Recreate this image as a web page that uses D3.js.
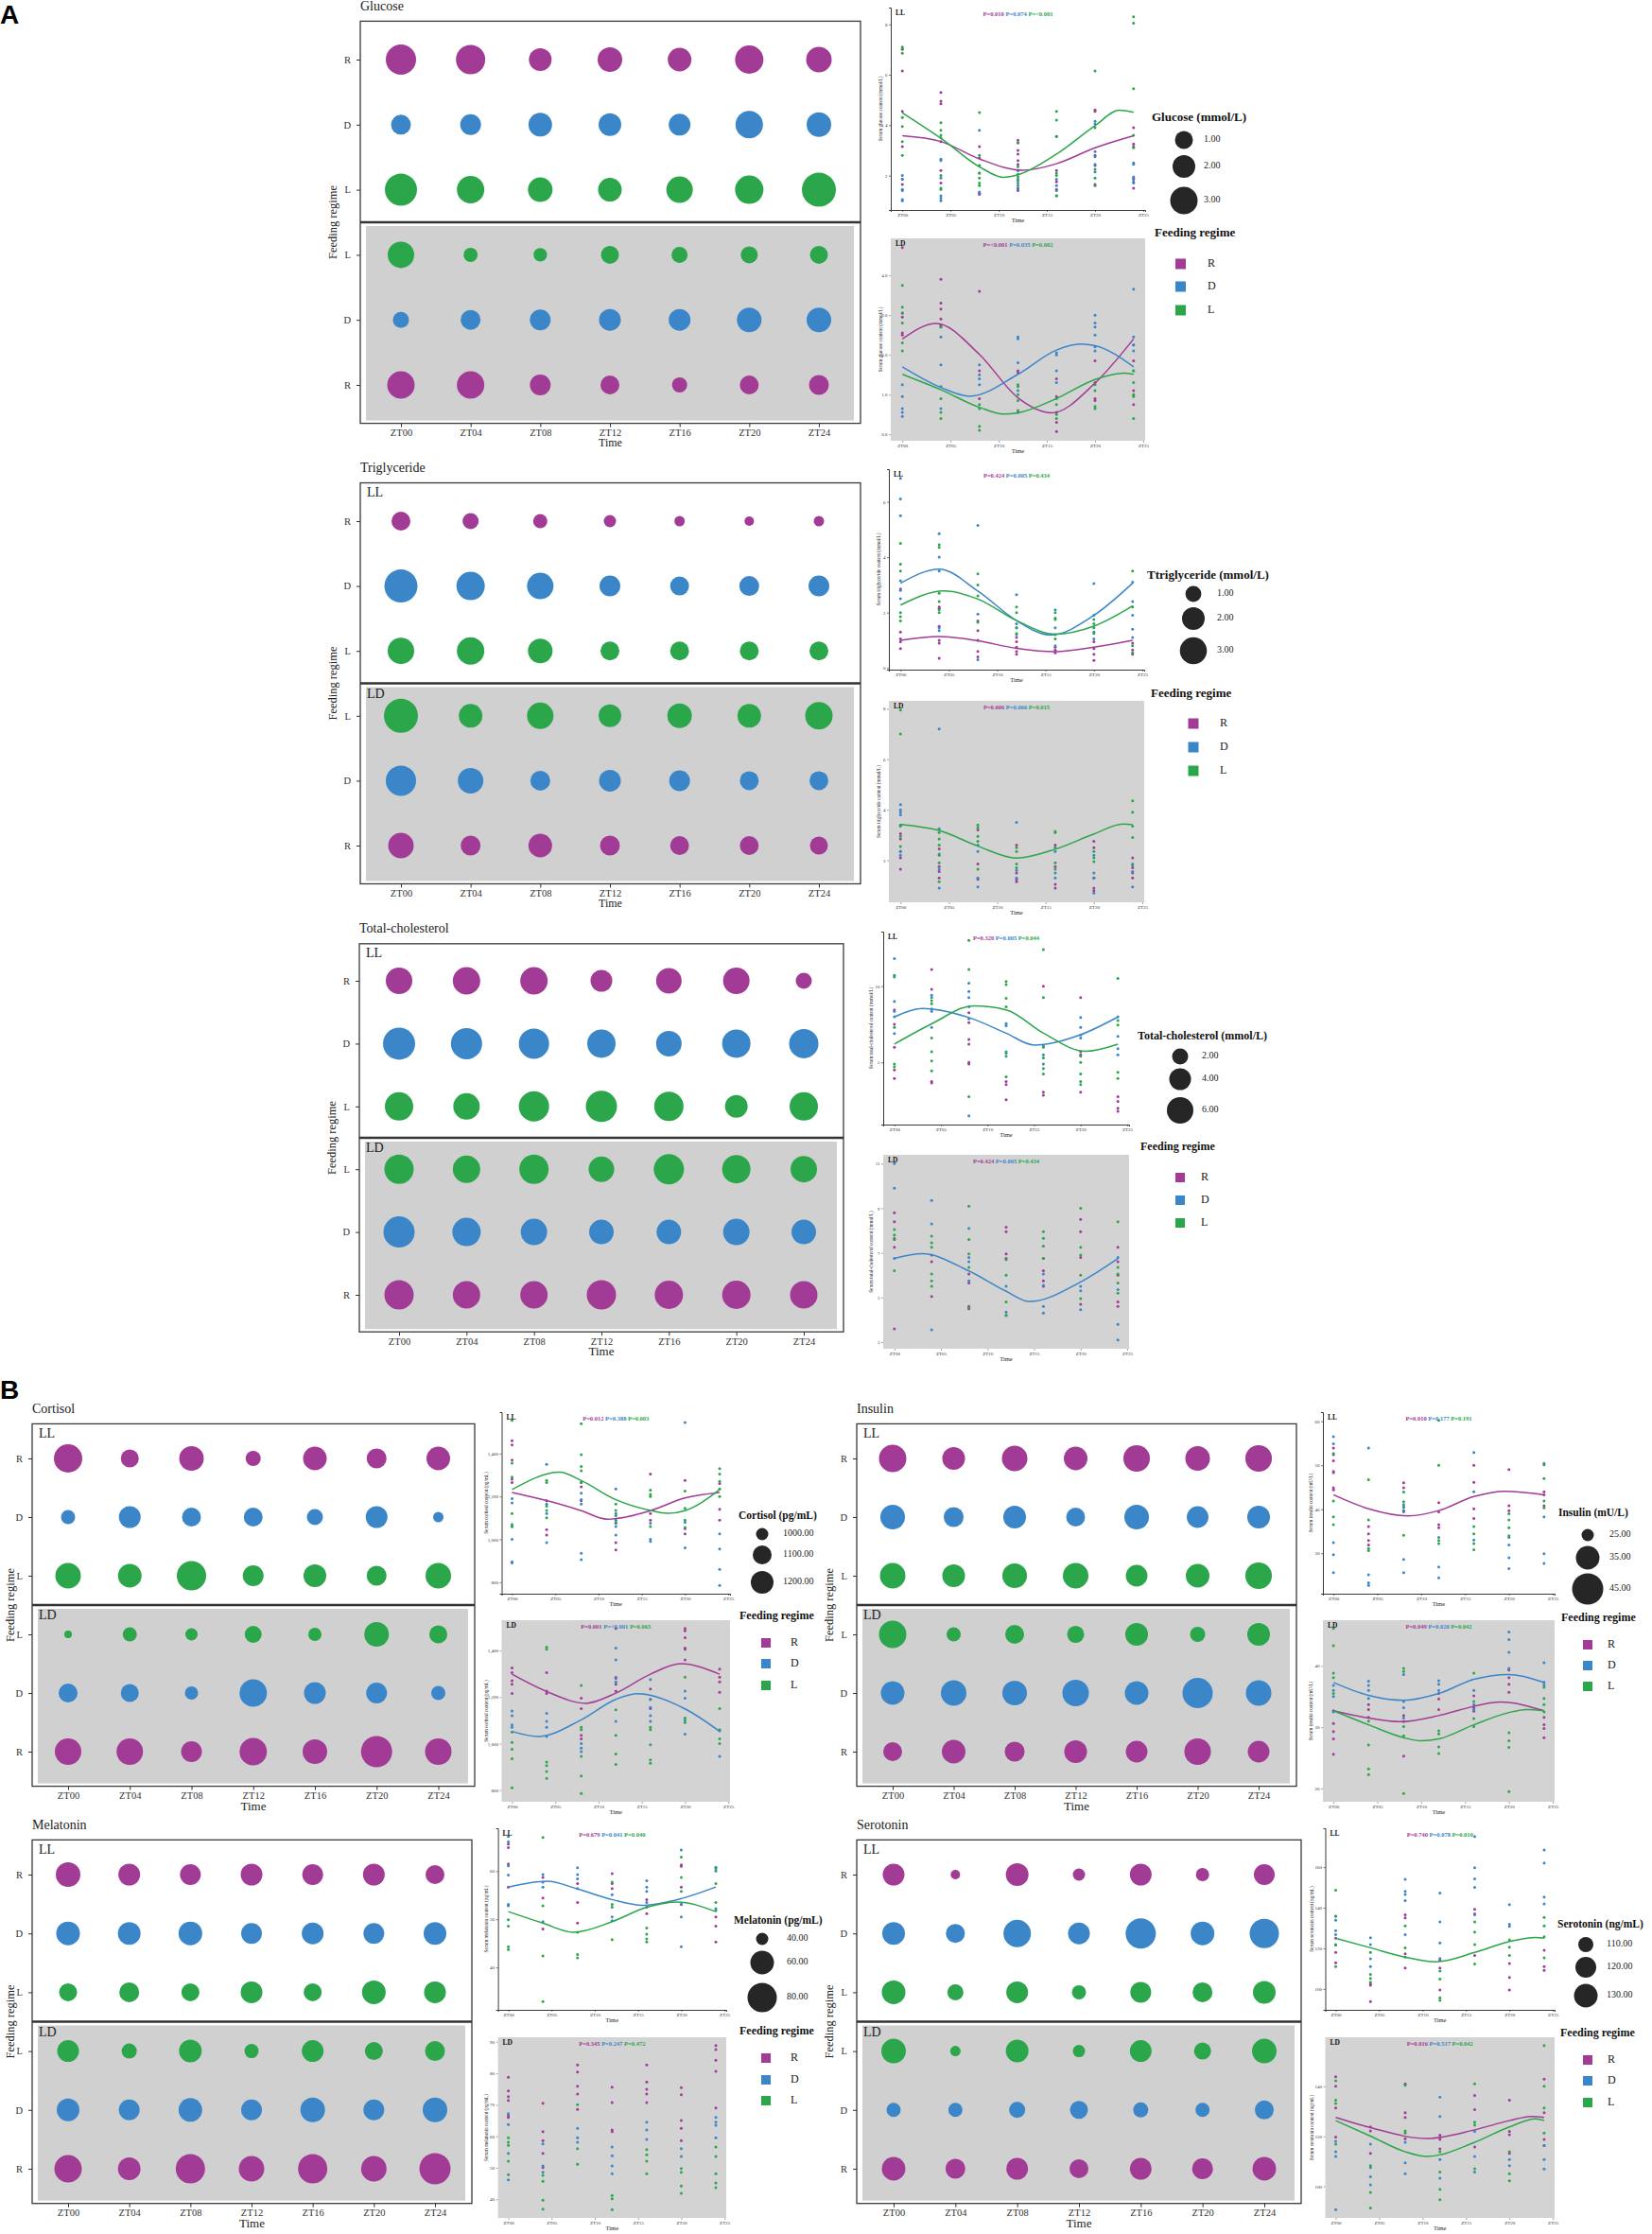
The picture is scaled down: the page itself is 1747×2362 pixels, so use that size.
<!DOCTYPE html>
<html><head><meta charset="utf-8">
<script src="https://cdn.jsdelivr.net/npm/d3@7"></script>
<style>body{margin:0;background:#fff}</style>
</head><body><svg id="chart" width="1747" height="2362"></svg>
<script>
// ---------- shared categories ----------
const ztLabels = ["ZT00","ZT04","ZT08","ZT12","ZT16","ZT20","ZT24"];
const ztHours = [0,4,8,12,16,20,24];
const groups = ["R","D","L"];
const scatterXTicks = [0,5,10,15,20,25];

// ---------- bubble means ----------
const gluBubLL = {R:[3.6,3.4,2.0,2.4,2.2,3.2,2.6], D:[1.4,1.6,2.2,2.0,1.8,3.0,2.4], L:[4.0,3.0,2.4,2.2,2.8,3.2,4.4]};
const gluBubLD = {R:[3.0,3.0,1.6,1.2,0.4,1.2,1.4], D:[0.6,1.4,1.6,1.8,1.8,2.4,2.4], L:[2.8,0.2,0.05,1.0,0.6,0.8,1.0]};
const triBubLL = {R:[1.44,1.03,0.75,0.47,0.19,0.06,0.19], D:[4.39,3.30,2.87,1.72,1.44,1.58,1.72], L:[2.87,3.09,2.43,1.44,1.44,1.44,1.44]};
const triBubLD = {R:[2.65,1.58,2.22,1.58,1.44,1.44,1.31], D:[3.74,2.65,1.58,1.86,1.72,1.44,1.44], L:[4.61,2.22,2.87,2.0,2.43,2.22,3.09]};
const cholBubLL = {R:[6.0,6.4,6.4,4.0,5.6,6.0,2.0], D:[8.4,8.0,7.6,6.8,5.6,6.8,7.2], L:[6.8,6.0,7.6,8.0,7.2,4.4,6.8]};
const cholBubLD = {R:[7.2,6.4,6.4,7.2,6.8,6.8,6.4], D:[8.0,6.8,6.0,5.2,5.2,6.0,5.2], L:[7.2,6.4,7.2,5.6,7.6,6.8,6.0]};
const cortBubLL = {R:[1350,1086,1250,1043,1225,1125,1225], D:[1029,1175,1100,1100,1057,1175,971], L:[1275,1225,1375,1150,1200,1125,1275]};
const cortBubLD = {R:[1300,1300,1150,1325,1250,1425,1300], D:[1100,1086,1014,1325,1175,1150,1029], L:[929,1029,1000,1071,1014,1250,1086]};
const insBubLL = {R:[40,34.2,37.5,35,38.8,36.3,38.8], D:[36.3,31.7,34.2,30.8,36.3,33.3,34.2], L:[37.5,34.2,36.3,37.5,33.3,35,38.8]};
const insBubLD = {R:[30.8,35,31.7,34.2,33.3,38.8,33.3], D:[35,37.5,36.3,38.8,35,43.8,37.5], L:[40,26.7,30.8,29.2,34.2,27.5,34.2]};
const melBubLL = {R:[63.3,56.7,55,56.7,55,56.7,51.7], D:[60,58.3,60,55,56.7,55,58.3], L:[50,53.3,50,56.7,50,60,56.7]};
const melBubLD = {R:[73.3,58.3,80,66.7,80,66.7,86.7], D:[58.3,55,60,55,63.3,55,63.3], L:[56.7,45,58.3,43.3,56.7,50,53.3]};
const serBubLL = {R:[123.3,100,126.7,105,123.3,106.7,120], D:[126.7,116.7,143.3,123.3,153.3,130,150], L:[130,111.7,123.3,108.3,120,118.3,126.7]};
const serBubLD = {R:[130,118.3,123.3,116.7,123.3,120,130], D:[108.3,108.3,111.7,115,110,108.3,116.7], L:[133.3,101.7,126.7,105,123.3,113.3,133.3]};

// ---------- size legends ----------
const gluLegVals = [1,2,3];
const triLegVals = [1,2,3];
const cholLegVals = [2,4,6];
const cortLegVals = [1000,1100,1200];
const insLegVals = [25,35,45];
const melLegVals = [40,60,80];
const serLegVals = [110,120,130];

// ---------- individual points per ZT (scatter) ----------
const gluPtsLL = {
 R:[[7.0,6.15,4.55,3.15,1.85,1.65],[5.3,4.95,4.85,3.35,2.2,1.7],[3.15,2.7,2.1,1.3,1.25],[3.4,3.3,3.0,2.85,2.6,2.45,2.2,1.5,1.4],[2.2,1.75,1.45],[4.6,4.55,2.8,2.4,1.65],[3.9,3.25,3.15,1.85,1.5]],
 D:[[2.0,1.85,1.45,1.4,1.05,1.0],[2.65,2.6,1.9,1.2,1.1,1.0],[3.8,2.4,1.35,1.3],[2.2,2.05,1.85,1.7,1.45],[3.55,1.85,1.6,1.4],[4.15,4.05,2.95,2.75,2.45,2.15],[2.5,2.45,1.95,1.9,1.75,1.7]],
 L:[[7.1,7.05,6.85,4.3,3.95,3.35,2.8],[4.1,3.8,3.6,3.5,2.0,1.5,1.45],[4.5,2.8,2.4,2.1,1.9,1.7,1.6],[3.3,2.35,1.95,1.8,1.6],[4.55,4.2,3.55,2.1,2.0,1.2,1.2],[6.15,3.9,2.25,1.9,1.6],[8.3,8.05,5.45,3.6,3.1]]};
const gluPtsLD = {
 R:[[4.7,3.05,2.95,2.55,2.5],[3.9,3.3,3.15,2.9,2.75,2.7],[3.6,1.6,0.9],[1.6,1.55,0.55],[1.4,0.95,0.55,0.3,0.07],[1.85,1.3,0.9,0.85],[2.25,1.85,1.1,0.75]],
 D:[[1.25,0.95,0.65,0.55,0.45],[2.45,1.75,1.2,0.65],[1.75,1.5,1.4,1.25],[2.45,2.4,1.8,1.1],[2.05,2.0,1.6,1.3],[3.0,2.8,2.7,2.5,2.2,2.1],[3.65,2.45,2.25,2.1,1.6]],
 L:[[3.75,3.2,3.05,2.8,2.3,2.1],[2.7,0.9,0.55,0.4],[0.75,0.65,0.2,0.1],[1.25,1.2,1.0,0.85,0.6],[0.9,0.75,0.5,0.4],[1.25,1.1,0.7,0.65],[1.6,1.3,1.0,0.95,0.4]]};
const triPtsLL = {
 R:[[2.85,1.3,1.05,0.95,0.7],[2.2,2.15,1.5,1.0,0.9,0.35],[1.7,1.35,1.0,0.6,0.4],[1.1,0.95,0.75,0.6,0.5],[0.75,0.65,0.55],[0.95,0.7,0.5,0.27],[0.9,0.65,0.5]],
 D:[[6.85,6.1,5.5,3.15,2.8,2.5],[4.85,4.0,3.5,1.45,1.35],[5.15,1.95,0.3],[2.65,1.6,1.45,1.2],[2.1,1.45,1.2,0.8],[3.05,1.9,1.3,1.05],[3.1,2.4,1.9,1.4,1.1]],
 L:[[4.5,3.75,3.5,2.0,1.85,1.7],[4.45,4.35,2.7,2.4,2.1,2.0],[3.4,3.0,2.6,1.65],[2.2,2.0,1.45,1.25],[2.0,1.8,1.75,1.05],[1.75,1.6,1.45,1.25],[3.5,2.2,0.8,0.55]]};
const triPtsLD = {
 R:[[3.05,2.85,2.35,2.1,1.65],[2.45,1.75,1.55,1.3],[3.2,1.85,1.25],[2.6,1.5,1.25,1.15],[2.6,1.75,1.05,0.9],[2.75,2.5,1.3,0.9,0.8],[2.1,1.7,1.5,1.3]],
 D:[[4.2,4.0,3.9,3.8,3.4,2.35,2.2],[7.2,3.25,2.2,1.65,0.9],[2.6,2.35,1.3,0.95],[3.5,1.6,1.3],[2.35,1.5,1.3],[2.2,1.5,1.3,0.7],[1.85,1.55,0.95]],
 L:[[7.95,7.0,3.35,2.95,2.55],[3.1,2.85,2.6,2.25,1.9,1.15],[3.4,3.3,2.95,2.75,1.65],[2.5,2.35,1.85,1.7],[3.15,3.1,2.5,1.9,1.65],[2.35,2.1,1.95],[4.35,3.9,3.35,2.9,1.8]]};
const cholPtsLL = {
 R:[[8.45,7.5,6.0,4.5,3.95],[11.1,9.8,3.75,3.65],[8.25,7.6,6.5,6.2,5.0,4.9],[3.75,3.55,2.55],[10.0,3.05,2.85],[9.25,5.7,5.5,3.05],[2.75,2.45,2.0,1.8]],
 D:[[11.8,10.7,9.0,8.35,8.0,6.9],[9.4,9.25,8.5,8.35,7.3],[10.2,9.65,9.25,8.65,7.85,1.5],[7.55,7.4,5.6],[6.1,5.5,4.9],[7.95,7.3,6.8,6.6],[8.0,6.7,5.9,5.5]],
 L:[[10.6,7.3,4.9,4.7],[9.05,8.85,6.6,5.7,5.1,4.45],[13.0,11.1,2.75],[10.3,10.1,9.2,8.65,5.7,5.4,4.05],[12.4,9.25,6.0,5.3,4.6,4.25],[5.4,5.0,4.25,3.75,3.55],[10.5,7.75,7.45,4.35,3.95]]};
const cholPtsLD = {
 R:[[8.8,8.4,7.6,7.25,3.6],[6.9,6.6,5.05],[6.05,5.65,4.6,4.5],[8.15,7.95,6.95,6.75],[6.75,6.2,5.75,5.5],[8.5,7.95,6.8,4.7],[7.25,6.6,6.0,4.8,4.6]],
 D:[[11.0,9.9,6.75],[9.35,8.3,3.55],[8.1,6.8,6.6,5.75],[5.5,4.35,4.2],[6.05,5.55,4.6,4.3],[5.5,5.3,4.45],[6.8,5.35,3.8,3.1]],
 L:[[8.05,7.8,7.65,6.2],[7.75,7.45,7.25,6.05,5.75,5.5],[9.1,7.6,6.95,6.35,4.55],[6.7,6.0,4.8,4.2],[7.95,7.65,7.3,6.75],[9.0,7.25,6.9,6.0,4.95],[8.4,6.35,6.05,5.65,5.2]]};
const cortPtsLL = {
 R:[[1460,1440,1370,1280,1265],[1180,1045,1020],[1265,1245,1180],[1075,985,950],[1305,1120,1090],[1275,1050,1025],[1260,1140,1090]],
 D:[[1190,1170,1060,1000,895,890],[1350,1165,1120,985],[1215,1185,1165,935,905],[1235,1120,1090,1060,1020],[1075,1000,990],[1545,1080,960],[1025,955,860,785]],
 L:[[1555,1355,1290,1120,1070,1060],[1275,1265,1155,1135,1100],[1540,1395,1340,1320,1265],[1165,1135,1110,1080],[1230,1210,1200,1060],[1225,1145,1090,1055],[1330,1305,1270,1235,1200]]};
const cortPtsLD = {
 R:[[1325,1305,1270,1255,1215],[1305,1225,1215],[1195,1150,1035,1020],[1495,1280,1255,1225],[1235,1190,1150],[1495,1485,1455,1410,1405,1360],[1320,1285,1265,1220]],
 D:[[1140,1120,1080,1070],[1130,1095,1070,1030],[1000,980,965],[1410,1360,1285,1265,1095],[1275,1190,1155,1120,1095],[1225,1195,1100,1040],[1055,945]],
 L:[[1050,1005,975,935,810],[1415,1405,920,905,880,850],[1250,1070,1060,945,860,785],[1145,1035,955,910],[1070,1060,995,930,915],[1285,1110,1090],[1150,1060,1020,1000]]};
const insPtsLL = {
 R:[[53.9,52.4,51.0,48.6,48.3,44.9,44.4],[36.1,34.4,32.9,31.9],[46.0,44.9,39.7],[41.5,39.4,36.5,35.8],[50.0,46.1,40.1,37.9],[49.0,40.8,39.7],[44.0,43.3,40.8]],
 D:[[56.5,54.9,32.4,29.7,25.6],[53.9,25.1,23.3,22.7],[41.1,40.4,39.4,28.6,25.6],[33.6,26.9,24.4],[52.9,44.0,33.0],[33.6,31.9,29.0,26.5],[50.1,38.3,29.9,27.7]],
 L:[[52.7,41.9,38.3,36.5],[46.7,37.6,31.1,30.6],[43.9,41.7,40.6,34.1],[60.2,50.0,32.9,32.2],[36.1,34.4,32.2,30.8],[39.0,37.6,35.8,34.0],[50.4,47.0,41.9,40.3]]};
const insPtsLD = {
 R:[[32.7,30.6,29.3,28.1,25.6],[33.7,32.9,31.6],[31.9,30.9,25.3],[35.5,34.6,32.9],[35.1,33.2,32.6],[39.3,38.1,37.0,35.7],[31.6,30.4,29.8,28.3]],
 D:[[36.8,36.0,35.0,32.5],[37.5,36.8,36.0,34.7],[38.6,34.2,33.2,31.5],[37.6,37.0,36.0],[36.0,33.7,32.9],[45.5,44.3,42.2,39.6],[40.5,37.3,36.9]],
 L:[[46.1,43.3,38.8,38.1,35.5],[31.0,27.1,23.2,22.3],[39.6,39.1,30.1,28.6,19.2],[29.4,28.9,26.8,25.7],[38.8,34.2,31.4,30.1],[29.1,27.8,26.7,19.5],[36.5,34.7,33.7,32.5]]};
const melPtsLL = {
 R:[[65.6,64.9,61.5,56.7],[58.7,54.4,48.0],[57.4,53.5,49.2],[59.5,57.4,56.4],[54.1,52.5,51.2],[61.3,61.0,56.7,53.1],[50.5,48.6,45.3]],
 D:[[67.2,66.1,61.1,59.2,53.1,52.8],[59.3,57.7,56.7,49.5],[60.7,59.3,58.4,56.4],[55.1,50.5,49.7],[58.0,56.7,55.8,53.5],[64.4,53.1,50.5,44.3],[60.8,60.0,52.2]],
 L:[[49.9,48.6,44.3,43.7],[67.0,52.8,42.4,32.9],[47.3,42.7,42.0],[57.7,53.1,52.5,45.8],[48.2,46.9,45.9,45.3],[62.9,58.7,55.8],[60.5,57.4,53.5,51.8]]};
const melPtsLD = {
 R:[[78.7,74.4,72.6,71.4,66.5,66.0],[70.5,61.5,58.6,54.6,50.1],[82.6,80.4,75.9,73.4,68.5],[75.6,70.7,62.0,61.5],[82.6,77.2,74.9,73.4,70.7],[75.4,73.2,65.0,62.5,58.6],[88.8,87.5,84.1,80.6,69.0]],
 D:[[67.2,63.7,54.6,46.2],[57.6,50.6,48.6],[62.5,59.5,58.1],[56.6,53.8,50.6,48.1],[64.5,62.0,59.0],[56.1,53.6],[66.0,64.5,63.5,59.5]],
 L:[[59.5,58.1,57.1,52.1,47.8],[47.6,45.7,39.7,36.9],[70.0,56.1,51.1],[41.2,40.2,36.7],[55.8,54.1,52.1,48.1],[49.8,48.6,44.2,41.9],[56.6,53.6,48.1,45.2,43.7]]};
const serPtsLL = {
 R:[[125.0,118.0,112.9],[102.6,101.8,93.8],[136.5,135.0,117.3,110.3],[114.2,110.3,99.5],[139.2,137.0,116.5],[112.6,105.7,99.5],[119.1,111.1,109.2]],
 D:[[135.8,133.9,128.8,126.8,121.9],[125.3,121.9,114.9,111.1],[154.0,148.1,146.6,143.5,126.8],[147.3,133.0,122.7,115.0],[175.1,159.7,154.3,150.0,136.5],[141.6,131.9,130.8],[168.5,162.0,145.3,141.9]],
 L:[[148.6,135.8,121.6,111.1],[118.0,107.2,105.2,103.4],[131.1,120.3,115.7],[108.8,104.9,95.7,94.4],[133.0,128.1,121.9,112.3],[124.2,120.6,116.5],[135.3,131.1,125.7,115.4]]};
const serPtsLD = {
 R:[[143.9,140.1,131.4,119.7],[123.8,122.2,113.2],[141.0,129.5,127.6,119.0],[120.5,118.8,115.0],[136.4,130.7,115.7],[134.5,122.0,120.7,113.2],[142.9,129.5,118.8,116.3]],
 D:[[118.0,113.8,111.9,90.6],[116.9,107.5,103.8,100.6],[117.6,109.4,105.0],[135.7,128.0,110.7,103.2],[122.0,111.9,105.7],[110.7,108.2],[116.3,110.7,106.9]],
 L:[[142.3,134.5,133.2,116.9],[108.2,97.5,91.3],[140.5,122.2,121.3],[113.8,105.7,98.8,94.6],[141.0,125.7,124.5,107.0],[113.8,105.0,102.2],[156.4,140.1,131.4,121.3]]};

// ---------- fitted cosinor curves, [hour, value] ----------
const gluFitLL = {R:[[0,3.58],[4,3.35],[8,2.66],[12.5,2.21],[16,2.47],[20,3.1],[24,3.58]],
                  L:[[0,4.49],[4,3.48],[8,2.35],[10.5,1.93],[12,2.03],[16,2.85],[20,3.98],[22.5,4.59],[24,4.51]]};
const gluFitLD = {R:[[0,2.4],[3.5,2.79],[8,2.01],[12,0.92],[15.5,0.54],[20,1.29],[24,2.4]],
                  D:[[0,1.7],[4,1.18],[7,0.96],[12,1.51],[16,2.12],[18.5,2.27],[20,2.23],[24,1.7]],
                  L:[[0,1.51],[4,1.12],[8,0.68],[10.5,0.51],[12,0.54],[16,0.9],[20,1.38],[23,1.54],[24,1.51]]};
const triFitLL = {R:[[0,1.0],[4,1.14],[8,0.98],[12,0.71],[16,0.59],[20,0.75],[24,1.0]],
                  D:[[0,3.06],[4,3.57],[8,2.78],[12,1.71],[15.5,1.19],[20,1.9],[24,3.06]],
                  L:[[0,2.27],[4.5,2.78],[8,2.49],[12,1.71],[16,1.22],[20,1.51],[24,2.24]]};
const triFitLD = {L:[[0,3.42],[4,3.18],[8,2.56],[12,2.09],[16,2.44],[20,3.04],[23,3.44],[24,3.42]]};
const cholFitLL = {D:[[0,7.98],[3,8.53],[8,7.94],[12,6.92],[15,6.14],[20,6.82],[24,7.98]],
                   L:[[0,6.2],[4,7.53],[8.5,8.71],[12,8.45],[16,6.92],[20.5,5.73],[24,6.2]]};
const cholFitLD = {D:[[0,6.75],[3,6.96],[8,6.19],[12,5.28],[14.5,4.82],[20,5.7],[24,6.75]]};
const cortFitLL = {R:[[0,1219],[4,1181],[8,1134],[11,1094],[16,1134],[20,1193],[24,1219]],
                   L:[[0,1232],[5.5,1313],[8,1274],[12,1185],[16,1135],[18,1122],[20,1134],[24,1232]]};
const cortFitLD = {R:[[0,1298],[4,1224],[8.5,1173],[12,1217],[16,1298],[19.5,1343],[24,1298]],
                   D:[[0,1052],[3,1030],[8,1102],[12,1190],[14.5,1214],[20,1149],[24,1052]]};
const insFitLL = {R:[[0,43.3],[4,40.1],[8.5,38.5],[12,39.7],[16,42.9],[19.5,44.1],[24,43.3]]};
const insFitLD = {R:[[0,32.7],[4,31.5],[7.5,30.9],[12,31.9],[16,33.4],[19,34.1],[24,32.7]],
                  D:[[0,37.3],[4,35.2],[8,34.4],[12,35.5],[16,37.8],[20,38.6],[24,37.3]],
                  L:[[0,32.7],[4,30.4],[8,28.3],[10,27.8],[12,28.1],[16,30.4],[20,32.4],[22,32.9],[24,32.7]]};
const melFitLL = {D:[[0,56.7],[4.5,57.9],[8,56.3],[12,54.1],[15.5,52.9],[20,54.3],[24,56.7]],
                  L:[[0,51.6],[4,49.2],[7.5,47.3],[12,49.5],[16,52.5],[19.5,53.6],[24,51.6]]};
const melFitLD = {};
const serFitLL = {L:[[0,125],[4,120.3],[8,115.7],[11.5,113.4],[16,118],[20,123.4],[23,125.4],[24,125]]};
const serFitLD = {R:[[0,127.6],[4,123.5],[10.5,119.1],[16,122.6],[20,126.3],[22.5,128],[24,127.6]],
                  L:[[0,126.3],[4,120.1],[8,113.8],[10.5,111.9],[16,117.6],[20,123.8],[23,127],[24,126.3]]};

// ---------- P-values (R, D, L) ----------
const gluP = {LL:["P=0.010","P=0.074","P=<0.001"], LD:["P=<0.001","P=0.035","P=0.002"]};
const triP = {LL:["P=0.424","P=0.005","P=0.434"], LD:["P=0.006","P=0.066","P=0.015"]};
const cholP = {LL:["P=0.320","P=0.005","P=0.044"], LD:["P=0.424","P=0.005","P=0.434"]};
const cortP = {LL:["P=0.012","P=0.388","P=0.003"], LD:["P=0.001","P=<0.001","P=0.065"]};
const insP = {LL:["P=0.010","P=0.177","P=0.191"], LD:["P=0.049","P=0.020","P=0.042"]};
const melP = {LL:["P=0.679","P=0.041","P=0.040"], LD:["P=0.345","P=0.247","P=0.472"]};
const serP = {LL:["P=0.740","P=0.078","P=0.010"], LD:["P=0.016","P=0.517","P=0.042"]};

// ---------- y tick values of scatter panels ----------
const gluTicks = {LL:[2,4,6,8], LD:[0,1,2,3,4]};
const triTicks = {LL:[0,2,4,6], LD:[2,4,6,8]};
const cholTicks = {LL:[5,10], LD:[3,5,7,9,11]};
const cortTicks = {LL:[800,1000,1200,1400], LD:[800,1000,1200,1400]};
const insTicks = {LL:[30,40,50,60], LD:[20,30,40]};
const melTicks = {LL:[40,50,60], LD:[40,50,60,70,80,90]};
const serTicks = {LL:[100,120,140,160], LD:[100,120,140]};

// ================= drawing =================
const SERIF = "'Liberation Serif','Times New Roman',serif";
const colors = {R:"#A23B96", D:"#3A86C8", L:"#2BA64A"};
const svg = d3.select("#chart");
svg.append("rect").attr("width",1747).attr("height",2362).attr("fill","#fff");

svg.append("text").attr("x",0).attr("y",25).text("A")
  .attr("font-family","'Liberation Sans Narrow','Liberation Sans',Arial,sans-serif").attr("font-weight","bold").attr("font-size",28);
svg.append("text").attr("x",0).attr("y",1479).text("B")
  .attr("font-family","'Liberation Sans Narrow','Liberation Sans',Arial,sans-serif").attr("font-weight","bold").attr("font-size",28);

function bubblePanel(cfg, ll, ld, legVals, legR) {
  const g = svg.append("g").attr("font-family", SERIF);
  const r = d3.scaleLinear().domain(legVals).range(legR);
  const rowKeys = ["LL-R","LL-D","LL-L","LD-L","LD-D","LD-R"];
  const y = d3.scalePoint().domain(rowKeys).range([cfg.row0, cfg.row0 + 5*cfg.step]);
  const x = d3.scalePoint().domain(ztLabels).range([cfg.zx0, cfg.zx1]);
  const pad = 0.59*cfg.step;
  const top = cfg.row0 - pad, bottom = cfg.row0 + 5*cfg.step + pad, split = cfg.row0 + 2.5*cfg.step;
  g.append("rect").attr("x",cfg.bx0+6).attr("y",split+4).attr("width",cfg.bx1-cfg.bx0-13)
    .attr("height",bottom-split-7).attr("fill","#D0D0D0");
  g.append("rect").attr("x",cfg.bx0).attr("y",top).attr("width",cfg.bx1-cfg.bx0).attr("height",bottom-top)
    .attr("fill","none").attr("stroke","#3a3a3a").attr("stroke-width",1.3);
  g.append("line").attr("x1",cfg.bx0).attr("x2",cfg.bx1).attr("y1",split).attr("y2",split)
    .attr("stroke","#333").attr("stroke-width",2.6);
  const ya = g.append("g").attr("transform",`translate(${cfg.bx0},0)`)
    .call(d3.axisLeft(y).tickSize(4).tickPadding(6).tickFormat(k => k.slice(3)));
  ya.select(".domain").remove();
  ya.selectAll("text").attr("font-family",SERIF).attr("font-size",10.5).attr("fill","#333");
  ya.selectAll("line").attr("stroke","#333");
  const xa = g.append("g").attr("transform",`translate(0,${bottom})`)
    .call(d3.axisBottom(x).tickSize(4).tickPadding(2));
  xa.select(".domain").remove();
  xa.selectAll("text").attr("font-family",SERIF).attr("font-size",10.5).attr("fill","#333");
  xa.selectAll("line").attr("stroke","#333");
  g.append("text").attr("x",(cfg.bx0+cfg.bx1)/2).attr("y",bottom+22).attr("text-anchor","middle")
    .attr("dominant-baseline","middle").attr("font-size",cfg.timeFs||12).attr("fill","#222").text("Time");
  g.append("text").attr("transform",`translate(${Math.max(12, cfg.bx0-28)},${(top+bottom)/2}) rotate(-90)`)
    .attr("text-anchor","middle").attr("dominant-baseline","middle").attr("font-size",12.5).attr("fill","#222")
    .text("Feeding regime");
  g.append("text").attr("x",cfg.bx0).attr("y",top-15).attr("dominant-baseline","middle")
    .attr("font-size",14).attr("fill","#222").text(cfg.title);
  if (cfg.condLabels) {
    g.append("text").attr("x",cfg.bx0+7).attr("y",top+11).attr("dominant-baseline","middle")
      .attr("font-size",14).attr("fill","#222").text("LL");
    g.append("text").attr("x",cfg.bx0+7).attr("y",split+12).attr("dominant-baseline","middle")
      .attr("font-size",14).attr("fill","#222").text("LD");
  }
  const rows = [];
  [["LL",ll],["LD",ld]].forEach(([cond,src]) => groups.forEach(gr =>
    src[gr].forEach((v,i) => rows.push({key:cond+"-"+gr, gr, zt:ztLabels[i], v}))));
  g.selectAll("circle.bub").data(rows).join("circle").attr("class","bub")
    .attr("cx",d => x(d.zt)).attr("cy",d => y(d.key)).attr("r",d => Math.max(2, r(d.v)))
    .attr("fill",d => colors[d.gr]);
}

function scatterPanel(box, pts, fits, pvals, tag, yTitle, yTicks, grey, titleOff) {
  const [L,T,R,B] = box;
  const g = svg.append("g").attr("font-family", SERIF);
  const all = groups.flatMap(gr => pts[gr].flat());
  const [mn,mx] = d3.extent(all); const e = (mx-mn)*0.05;
  const y = d3.scaleLinear().domain([mn-e, mx+e]).range([B,T]);
  const x = d3.scaleLinear().domain([-1.2,25.2]).range([L,R]);
  if (grey) g.append("rect").attr("x",L).attr("y",T).attr("width",R-L).attr("height",B-T).attr("fill","#D3D3D3");
  const axisCol = grey ? "#666" : "#222";
  const ya = g.append("g").attr("transform",`translate(${L},0)`)
    .call(d3.axisLeft(y).tickValues(yTicks).tickSize(2).tickPadding(1.5));
  if (grey) ya.select(".domain").remove(); else ya.select(".domain").attr("stroke",axisCol).attr("stroke-width",0.9);
  ya.selectAll("text").attr("font-family",SERIF).attr("font-size",5).attr("fill","#333");
  ya.selectAll("line").attr("stroke",axisCol).attr("stroke-width",0.6);
  const xa = g.append("g").attr("transform",`translate(0,${B})`)
    .call(d3.axisBottom(x).tickValues(scatterXTicks).tickSize(2).tickPadding(1.5)
      .tickFormat(h => "ZT" + String(h).padStart(2,"0")));
  if (grey) xa.select(".domain").remove(); else xa.select(".domain").attr("stroke",axisCol).attr("stroke-width",0.9);
  xa.selectAll("text").attr("font-family",SERIF).attr("font-size",5).attr("fill","#333");
  xa.selectAll("line").attr("stroke",axisCol).attr("stroke-width",0.6);
  g.append("text").attr("x",(L+R)/2).attr("y",B+12).attr("text-anchor","middle").attr("dominant-baseline","middle")
    .attr("font-size",6.5).attr("fill","#222").text("Time");
  g.append("text").attr("transform",`translate(${L-titleOff},${(T+B)/2}) rotate(-90)`)
    .attr("text-anchor","middle").attr("dominant-baseline","middle").attr("font-size",5.2).attr("fill","#222").text(yTitle);
  const dots = [];
  groups.forEach(gr => pts[gr].forEach((arr,i) => arr.forEach(v => dots.push({gr, h:ztHours[i], v}))));
  g.selectAll("circle.pt").data(dots).join("circle").attr("class","pt")
    .attr("cx",d => x(d.h)).attr("cy",d => y(d.v)).attr("r",1.5).attr("fill",d => colors[d.gr]);
  const line = d3.line().x(d => x(d[0])).y(d => y(d[1])).curve(d3.curveMonotoneX);
  Object.keys(fits).forEach(gr => g.append("path").attr("d", line(fits[gr]))
    .attr("fill","none").attr("stroke",colors[gr]).attr("stroke-width",1.5));
  g.append("text").attr("x",L+5).attr("y",T+6).attr("dominant-baseline","middle")
    .attr("font-size",7.5).attr("font-weight","bold").attr("fill","#111").text(tag);
  const pt = g.append("text").attr("x",(L+R)/2).attr("y",T+8).attr("text-anchor","middle")
    .attr("dominant-baseline","middle").attr("font-size",6.5).attr("font-weight","bold");
  groups.forEach((gr,i) => pt.append("tspan").attr("fill",colors[gr]).text((i?" ":"") + pvals[i]));
}

function legendBlock(c, title, vals, legR) {
  const g = svg.append("g").attr("font-family", SERIF);
  const r = d3.scaleLinear().domain(vals).range(legR);
  g.append("text").attr("x",c.tx).attr("y",c.ty).attr("dominant-baseline","middle").attr("font-weight","bold")
    .attr("font-size",c.fs).attr("fill","#111").text(title);
  g.selectAll("circle").data(vals).join("circle").attr("cx",c.cx).attr("cy",(d,i) => c.cy[i])
    .attr("r",d => r(d)).attr("fill","#262626");
  g.selectAll("text.lv").data(vals).join("text").attr("class","lv").attr("x",c.lx).attr("y",(d,i) => c.cy[i])
    .attr("dominant-baseline","middle").attr("font-size",10).attr("fill","#222").text(d => d3.format(".2f")(d));
  g.append("text").attr("x",c.fx).attr("y",c.fy).attr("dominant-baseline","middle").attr("font-weight","bold")
    .attr("font-size",c.ffs).attr("fill","#111").text("Feeding regime");
  g.selectAll("rect").data(groups).join("rect").attr("x",c.sx - c.sq/2).attr("y",(d,i) => c.sy[i]-c.sq/2)
    .attr("width",c.sq).attr("height",c.sq).attr("fill",d => colors[d]);
  g.selectAll("text.gl").data(groups).join("text").attr("class","gl").attr("x",c.slx).attr("y",(d,i) => c.sy[i])
    .attr("dominant-baseline","middle").attr("font-size",12).attr("fill","#222").text(d => d);
}

// ---------- panel layouts ----------
const panels = [
 {title:"Glucose", bub:[gluBubLL,gluBubLD], pts:[gluPtsLL,gluPtsLD], fit:[gluFitLL,gluFitLD], p:gluP, ticks:gluTicks, leg:gluLegVals,
  legR:[9.5,12,14.5], yTitle:"Serum glucose content (mmol/L)", legTitle:"Glucose  (mmol/L)",
  cfg:{title:"Glucose", bx0:381,bx1:910,row0:63,step:68.8,zx0:424,zx1:866,condLabels:false},
  scLL:[942,8,1211,222], scLD:[942,252,1211,466], off:10,
  lc:{tx:1218,ty:125,fs:13,cx:1252,cy:[148,176,212],lx:1273,fx:1221,fy:247,ffs:13,sx:1248.5,sy:[279,303,328],sq:11,slx:1277}},
 {title:"Triglyceride", bub:[triBubLL,triBubLD], pts:[triPtsLL,triPtsLD], fit:[triFitLL,triFitLD], p:triP, ticks:triTicks, leg:triLegVals,
  legR:[8.4,12,14.3], yTitle:"Serum triglyceride content (mmol/L)", legTitle:"Ttriglyceride (mmol/L)",
  cfg:{title:"Triglyceride", bx0:381,bx1:910,row0:551,step:68.6,zx0:424,zx1:866,condLabels:true},
  scLL:[940,496,1210,708], scLD:[940,741,1210,954], off:10,
  lc:{tx:1213,ty:609,fs:13,cx:1262,cy:[628,654,688],lx:1287,fx:1217,fy:734,ffs:13,sx:1262,sy:[765,790,815],sq:11,slx:1290}},
 {title:"Total-cholesterol", bub:[cholBubLL,cholBubLD], pts:[cholPtsLL,cholPtsLD], fit:[cholFitLL,cholFitLD], p:cholP, ticks:cholTicks, leg:cholLegVals,
  legR:[8.5,11.5,14], yTitle:"Serum total-cholesterol content (mmol/L)", legTitle:"Total-cholesterol (mmol/L)",
  cfg:{title:"Total-cholesterol", bx0:380,bx1:892,row0:1037,step:66.4,zx0:422,zx1:850,condLabels:true,timeFs:13},
  scLL:[934,985,1194,1189], scLD:[934,1221,1194,1426], off:12,
  lc:{tx:1203,ty:1096,fs:12,cx:1248,cy:[1117,1141,1174],lx:1271,fx:1206,fy:1213,ffs:12,sx:1248,sy:[1245,1269,1293],sq:10,slx:1270}},
 {title:"Cortisol", bub:[cortBubLL,cortBubLD], pts:[cortPtsLL,cortPtsLD], fit:[cortFitLL,cortFitLD], p:cortP, ticks:cortTicks, leg:cortLegVals,
  legR:[6.5,10,12], yTitle:"Serum cortisol content (pg/mL)", legTitle:"Cortisol (pg/mL)",
  cfg:{title:"Cortisol", bx0:34,bx1:502,row0:1542,step:62,zx0:72,zx1:463.5,condLabels:true,timeFs:13},
  scLL:[530.5,1493,772,1685], scLD:[530.5,1713,772,1905], off:16,
  lc:{tx:781,ty:1603,fs:11.5,cx:806,cy:[1622,1644,1673],lx:828,fx:782,fy:1709,ffs:12,sx:810,sy:[1737,1759,1782],sq:10,slx:836}},
 {title:"Insulin", bub:[insBubLL,insBubLD], pts:[insPtsLL,insPtsLD], fit:[insFitLL,insFitLD], p:insP, ticks:insTicks, leg:insLegVals,
  legR:[6.5,12.5,16.5], yTitle:"Serum insulin content (mU/L)", legTitle:"Insulin (mU/L)",
  cfg:{title:"Insulin", bx0:906,bx1:1371,row0:1542,step:62,zx0:944,zx1:1331,condLabels:true,timeFs:13},
  scLL:[1399,1493,1644,1685], scLD:[1399,1713,1644,1905], off:12,
  lc:{tx:1648,ty:1600,fs:11.5,cx:1679,cy:[1623,1647,1680],lx:1702,fx:1651,fy:1711,ffs:12,sx:1679,sy:[1739,1761,1783],sq:10,slx:1700}},
 {title:"Melatonin", bub:[melBubLL,melBubLD], pts:[melPtsLL,melPtsLD], fit:[melFitLL,melFitLD], p:melP, ticks:melTicks, leg:melLegVals,
  legR:[6.5,12.5,15.5], yTitle:"Serum melatonin content (pg/mL)", legTitle:"Melatonin (pg/mL)",
  cfg:{title:"Melatonin", bx0:34,bx1:499,row0:1982,step:62.2,zx0:72,zx1:460,condLabels:true,timeFs:13},
  scLL:[526.6,1933,768,2125], scLD:[526.6,2154,768,2345], off:12,
  lc:{tx:776,ty:2031,fs:11.5,cx:806,cy:[2050,2075,2112],lx:832,fx:782,fy:2148,ffs:12,sx:810,sy:[2176,2199,2221],sq:10,slx:836}},
 {title:"Serotonin", bub:[serBubLL,serBubLD], pts:[serPtsLL,serPtsLD], fit:[serFitLL,serFitLD], p:serP, ticks:serTicks, leg:serLegVals,
  legR:[8,11,12.5], yTitle:"Serum serotonin content (ng/mL)", legTitle:"Serotonin (ng/mL)",
  cfg:{title:"Serotonin", bx0:906,bx1:1376,row0:1982,step:62.2,zx0:945,zx1:1337,condLabels:true,timeFs:13},
  scLL:[1401.5,1933,1644,2125], scLD:[1401.5,2154,1644,2345], off:14,
  lc:{tx:1647,ty:2035,fs:11.5,cx:1677,cy:[2056,2080,2110],lx:1699,fx:1650,fy:2150,ffs:12,sx:1679,sy:[2178,2200,2223],sq:10,slx:1700}}
];

panels.forEach(P => {
  bubblePanel(P.cfg, P.bub[0], P.bub[1], P.leg, P.legR);
  scatterPanel(P.scLL, P.pts[0], P.fit[0], P.p.LL, "LL", P.yTitle, P.ticks.LL, false, P.off);
  scatterPanel(P.scLD, P.pts[1], P.fit[1], P.p.LD, "LD", P.yTitle, P.ticks.LD, true, P.off);
  legendBlock(P.lc, P.legTitle, P.leg, P.legR);
});
</script>
</body></html>
